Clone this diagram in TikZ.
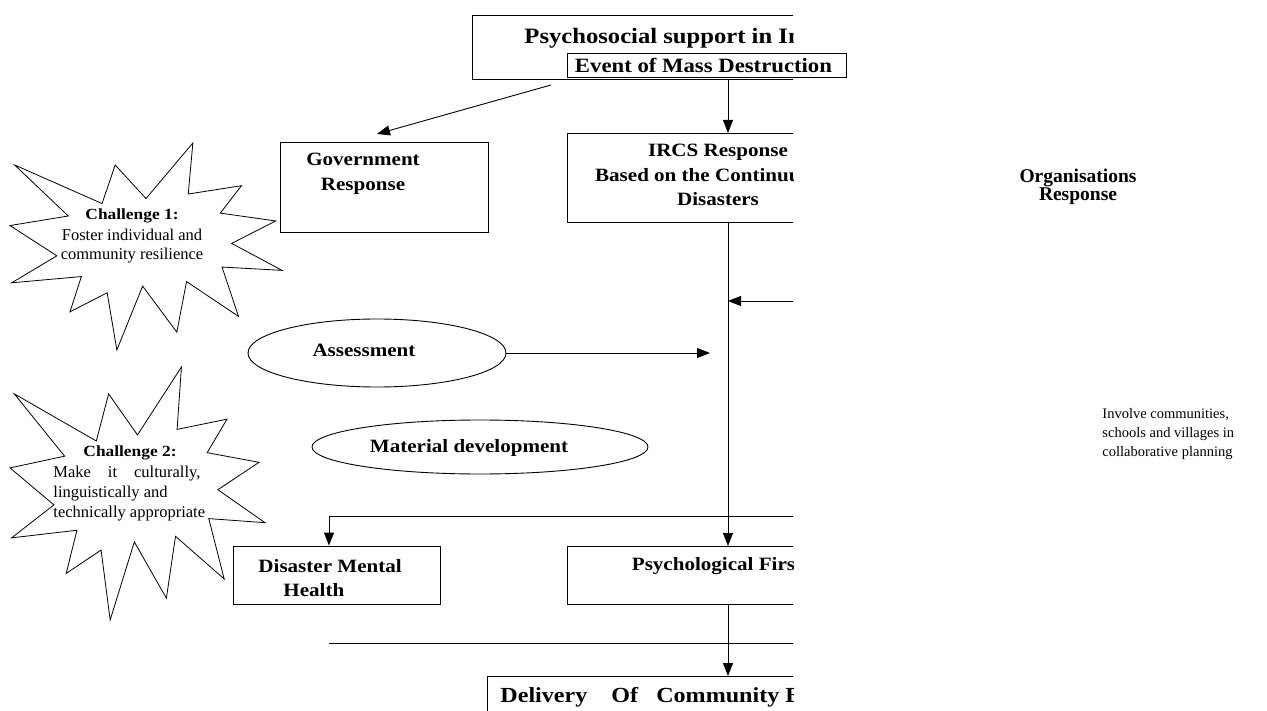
\documentclass[tikz,border=0pt]{standalone}
\usepackage{fontspec}
\setmainfont{Liberation Serif}
\newfontfamily\gar[FakeStretch=1.12]{Liberation Serif}
\usetikzlibrary{arrows.meta,shapes.geometric}
\begin{document}
\begin{tikzpicture}[x=1pt,y=-1pt,line width=0.9pt,
  box/.style={draw,rectangle,inner sep=0pt},
  ell/.style={draw,ellipse,inner sep=0pt},
  lbl/.style={font=\gar\bfseries\fontsize{18.8}{24.8}\selectfont,inner sep=0pt,align=center},
  big/.style={font=\gar\bfseries\fontsize{22}{24}\selectfont,inner sep=0pt},
  chal/.style={font=\gar\bfseries\fontsize{15.5}{18}\selectfont,inner sep=0pt},
  small/.style={font=\fontsize{16.5}{18.5}\selectfont,inner sep=0pt},
  arr/.style={-{Triangle[length=13pt,width=10pt]}},
  star/.style={draw,fill=white,line width=0.8pt}]
\useasboundingbox (0,0) rectangle (1267,711);

% Challenge 1 star
\begin{scope}[shift={(10,143)},xscale=2.72,yscale=2.07]
\draw[star] (50,26.85) -- (67.23,0) -- (65.53,24.65) -- (85.09,20.63) -- (77.32,33.87) -- (97.67,37.67) -- (81.51,48.50) -- (100,61.53) -- (77.95,59.92) -- (84.00,83.77) -- (64.91,66.93) -- (61.33,91.38) -- (48.76,69.14) -- (39.28,100) -- (35.72,72.35) -- (22.05,81.56) -- (26.24,64.52) -- (0.625,67.53) -- (17.23,54.51) -- (0,39.88) -- (21.42,35.26) -- (1.71,10.63) -- (33.85,29.26) -- (38.67,10.63) -- cycle;
\end{scope}
\node[chal] (c1t) at (132,216) {Challenge 1:};
\node[small,align=center] (c1b) at (132,246) {Foster individual and\\community resilience};

% Challenge 2 star
\begin{scope}[shift={(10,367)},xscale=2.55,yscale=2.53]
\draw[star] (50,26.85) -- (67.23,0) -- (65.53,24.65) -- (85.09,20.63) -- (77.32,33.87) -- (97.67,37.67) -- (81.51,48.50) -- (100,61.53) -- (77.95,59.92) -- (84.00,83.77) -- (64.91,66.93) -- (61.33,91.38) -- (48.76,69.14) -- (39.28,100) -- (35.72,72.35) -- (22.05,81.56) -- (26.24,64.52) -- (0.625,67.53) -- (17.23,54.51) -- (0,39.88) -- (21.42,35.26) -- (1.71,10.63) -- (33.85,29.26) -- (38.67,10.63) -- cycle;
\end{scope}
\node[chal] (c2t) at (130,453) {Challenge 2:};
\node[small,anchor=west,align=left,font=\fontsize{16.5}{20}\selectfont] (c2b) at (53,494) {\hbox to 147pt{Make\hfill it\hfill culturally,}\\linguistically and\\technically appropriate};

% clipped chart
\begin{scope}
\clip (0,0) rectangle (793,711);
\node[box,anchor=north west,minimum width=520pt,minimum height=64pt] (title) at (472,15) {};
\node[big,anchor=west] (titletxt) at (524,38) {Psychosocial support in India};

\node[box,minimum width=208pt,minimum height=90pt] (gov) at (384,187) {};
\node[lbl] (govtxt) at (363,174) {Government\\Response};

\node[box,anchor=north west,minimum width=330pt,minimum height=89pt] (ircs) at (567,133) {};
\node[lbl] (ircstxt) at (718,175) {IRCS Response\\Based on the Continuum of\\Disasters};

\node[ell,minimum width=258pt,minimum height=68pt] (assess) at (377,353) {};
\node[lbl] (assesstxt) at (364,350) {Assessment};

\node[ell,minimum width=336pt,minimum height=54pt] (mat) at (480,447) {};
\node[lbl] (mattxt) at (469,448) {Material development};

\node[box,minimum width=207pt,minimum height=58pt] (dmh) at (336.5,575) {};
\node[lbl,anchor=west,align=left] (dmhtxt) at (258,578) {Disaster Mental\\\hspace*{25pt}Health};

\node[box,anchor=north west,minimum width=330pt,minimum height=58pt] (psy) at (567,546) {};
\node[lbl] (psytxt) at (736,566) {Psychological First Aid};

\node[box,anchor=north west,minimum width=500pt,minimum height=60pt] (del) at (487,676) {};
\node[big,anchor=west,font=\gar\bfseries\fontsize{21.5}{24}\selectfont] (deltxt) at (500,697) {Delivery\ \ \ \ Of\ \ \ Community Based};

\coordinate (spine) at (728,0);
\coordinate (g1) at (551,85);
\coordinate (g2) at (377,134);
\draw[arr] (g1) -- (g2);
\draw[arr] (title.south -| spine) -- (ircs.north -| spine);
\draw[arr] (ircs.south -| spine) -- (psy.north -| spine);
\draw[arr] (psy.south -| spine) -- (del.north -| spine);
\coordinate (rin) at (800,301);
\draw[arr] (rin) -- (rin -| spine);
\coordinate (aend) at (710,0);
\draw[arr] (assess.east) -- (assess.east -| aend);
\coordinate (h1) at (800,516);
\coordinate (dmhx) at (329,0);
\draw[arr] (h1) -- (h1 -| dmhx) -- (dmh.north -| dmhx);
\coordinate (h2a) at (329,643);
\coordinate (h2b) at (800,643);
\draw (h2a) -- (h2b);
\end{scope}

\node[box,minimum width=279pt,minimum height=24pt,fill=white,font=\gar\bfseries\fontsize{20.3}{24}\selectfont] (event) at (706.5,65) {Event of Mass Destruction\hspace*{6pt}};

\node[font=\bfseries\fontsize{19.5}{18.5}\selectfont,align=center,inner sep=0pt] (org) at (1078,187) {Organisations\\Response};
\node[font=\fontsize{14.5}{19}\selectfont,inner sep=0pt,anchor=west,align=left] (inv) at (1102,434) {Involve communities,\\schools and villages in\\collaborative planning};
\end{tikzpicture}
\end{document}
